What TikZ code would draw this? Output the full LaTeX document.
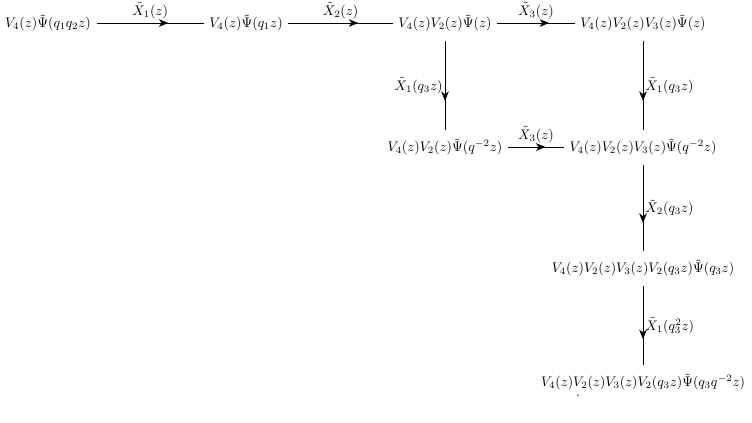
\documentclass[tikz,border=0pt]{standalone}
\usetikzlibrary{arrows.meta,decorations.markings}
\tikzset{
  obj/.style={inner sep=0pt, anchor=center},
  lbl/.style={inner sep=0pt},
  midarrow/.style={postaction={decorate},
    decoration={markings, mark=at position 0.67 with {\arrow{Stealth[length=6.8pt,width=5.5pt,inset=2pt]}}}},
  conn/.style={draw, line width=0.5pt, midarrow},
}
\begin{document}
\begin{tikzpicture}[x=0.72pt,y=-0.72pt]
\useasboundingbox (0,0) rectangle (752,423);
\node[obj] (A) at (48,23) {$V_4(z)\tilde\Psi(q_1q_2z)$};
\node[obj] (B) at (246,23) {$V_4(z)\tilde\Psi(q_1z)$};
\node[obj] (C) at (445,23) {$V_4(z)V_2(z)\tilde\Psi(z)$};
\node[obj] (D) at (643,23) {$V_4(z)V_2(z)V_3(z)\tilde\Psi(z)$};
\node[obj] (E) at (445,147) {$V_4(z)V_2(z)\tilde\Psi(q^{-2}z)$};
\node[obj] (F) at (643,147) {$V_4(z)V_2(z)V_3(z)\tilde\Psi(q^{-2}z)$};
\node[obj] (G) at (643,268) {$V_4(z)V_2(z)V_3(z)V_2(q_3z)\tilde\Psi(q_3z)$};
\node[obj] (H) at (643,382) {$V_4(z)V_2(z)V_3(z)V_2(q_3z)\tilde\Psi(q_3q^{-2}z)$};
\node[obj] (dot) at (578,396) {.};
\draw[conn] ([xshift=4pt]A.east) -- node[above=3pt,lbl]{$\tilde X_1(z)$} ([xshift=-4pt]B.west);
\draw[conn] ([xshift=4pt]B.east) -- node[above=3pt,lbl]{$\tilde X_2(z)$} ([xshift=-4pt]C.west);
\draw[conn] ([xshift=4pt]C.east) -- node[above=3pt,lbl]{$\tilde X_3(z)$} ([xshift=-4pt]D.west);
\draw[conn] ([xshift=4pt]E.east) -- node[above=3pt,lbl]{$\tilde X_3(z)$} ([xshift=-4pt]F.west);
\draw[conn] ([yshift=-7pt]C.south) -- node[left=1.5pt,lbl]{$\tilde X_1(q_3z)$} ([yshift=6pt]E.north);
\draw[conn] ([yshift=-7pt]D.south) -- node[right=1.5pt,lbl]{$\tilde X_1(q_3z)$} ([yshift=6pt]F.north);
\draw[conn] ([yshift=-7pt]F.south) -- node[right=1.5pt,lbl]{$\tilde X_2(q_3z)$} ([yshift=6pt]G.north);
\draw[conn] ([yshift=-7pt]G.south) -- node[right=1.5pt,lbl]{$\tilde X_1(q_3^2z)$} ([yshift=6pt]H.north);
\end{tikzpicture}
\end{document}
